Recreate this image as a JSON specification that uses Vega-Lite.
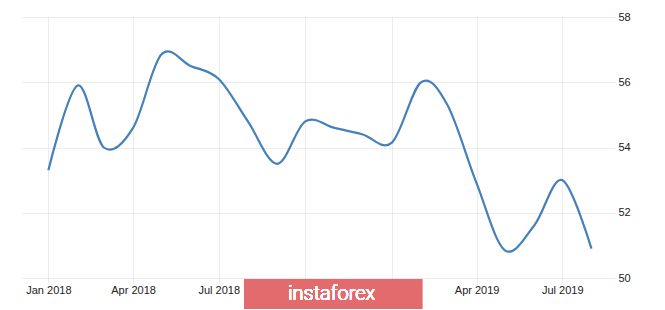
{
  "$schema": "https://vega.github.io/schema/vega-lite/v6.json",
  "autosize": "none",
  "width": 593,
  "height": 261,
  "padding": {"left": 22, "top": 17, "right": 50, "bottom": 32},
  "background": "#ffffff",
  "config": {
    "view": {"stroke": null},
    "font": "Liberation Sans"
  },
  "data": {
    "values": [
      {"date": "2018-01-01", "value": 53.3},
      {"date": "2018-02-01", "value": 55.9},
      {"date": "2018-03-01", "value": 54.0},
      {"date": "2018-04-01", "value": 54.6},
      {"date": "2018-05-01", "value": 56.85},
      {"date": "2018-06-01", "value": 56.5},
      {"date": "2018-07-01", "value": 56.1},
      {"date": "2018-08-01", "value": 54.8},
      {"date": "2018-09-01", "value": 53.5},
      {"date": "2018-10-01", "value": 54.8},
      {"date": "2018-11-01", "value": 54.6},
      {"date": "2018-12-01", "value": 54.4},
      {"date": "2019-01-01", "value": 54.15},
      {"date": "2019-02-01", "value": 56.0},
      {"date": "2019-03-01", "value": 55.3},
      {"date": "2019-04-01", "value": 52.9},
      {"date": "2019-05-01", "value": 50.85},
      {"date": "2019-06-01", "value": 51.6},
      {"date": "2019-07-01", "value": 53.0},
      {"date": "2019-08-01", "value": 50.9}
    ]
  },
  "layer": [
    {
      "mark": {"type": "line", "interpolate": "cardinal", "color": "#4580bb", "strokeWidth": 2.2},
      "encoding": {
        "x": {
          "field": "date",
          "type": "temporal",
          "scale": {
            "type": "utc",
            "nice": false,
            "domain": [
              {"year": 2017, "month": 12, "date": 4, "utc": true},
              {"year": 2019, "month": 8, "date": 26, "utc": true}
            ]
          },
          "axis": {
            "title": null,
            "values": [
              {"year": 2018, "month": 1, "date": 1, "utc": true},
              {"year": 2018, "month": 4, "date": 1, "utc": true},
              {"year": 2018, "month": 7, "date": 1, "utc": true},
              {"year": 2018, "month": 10, "date": 1, "utc": true},
              {"year": 2019, "month": 1, "date": 1, "utc": true},
              {"year": 2019, "month": 4, "date": 1, "utc": true},
              {"year": 2019, "month": 7, "date": 1, "utc": true}
            ],
            "labelExpr": "utcFormat(datum.value, '%b %Y')",
            "domain": false,
            "grid": true,
            "gridColor": "#d9d9d9",
            "gridDash": [1, 1],
            "gridWidth": 1,
            "ticks": true,
            "tickSize": 5,
            "tickColor": "#d9d9d9",
            "tickDash": [1, 1],
            "labelPadding": 1,
            "labelFontSize": 11,
            "labelColor": "#222222",
            "labelFont": "Liberation Sans"
          }
        },
        "y": {
          "field": "value",
          "type": "quantitative",
          "scale": {"domain": [50, 58], "nice": false, "zero": false},
          "axis": {
            "title": null,
            "orient": "right",
            "values": [50, 52, 54, 56, 58],
            "domain": false,
            "ticks": false,
            "grid": true,
            "gridColor": "#d9d9d9",
            "gridDash": [1, 1],
            "gridWidth": 1,
            "labelPadding": 3,
            "labelFontSize": 11,
            "labelColor": "#222222",
            "labelFont": "Liberation Sans"
          }
        }
      }
    },
    {
      "mark": {"type": "rect", "fill": "#e36b6d"},
      "encoding": {
        "x": {"datum": {"year": 2018, "month": 7, "date": 28, "utc": true}, "type": "temporal"},
        "x2": {"datum": {"year": 2019, "month": 2, "date": 2, "utc": true}},
        "y": {"datum": 49.97, "type": "quantitative"},
        "y2": {"datum": 49.05}
      }
    },
    {
      "mark": {"type": "text", "text": "instaforex", "color": "#ffffff", "font": "Roboto", "fontWeight": 300, "fontSize": 20, "align": "center", "baseline": "alphabetic"},
      "encoding": {
        "x": {"datum": {"year": 2018, "month": 10, "date": 29, "utc": true}, "type": "temporal"},
        "y": {"datum": 49.335, "type": "quantitative"}
      }
    }
  ]
}
